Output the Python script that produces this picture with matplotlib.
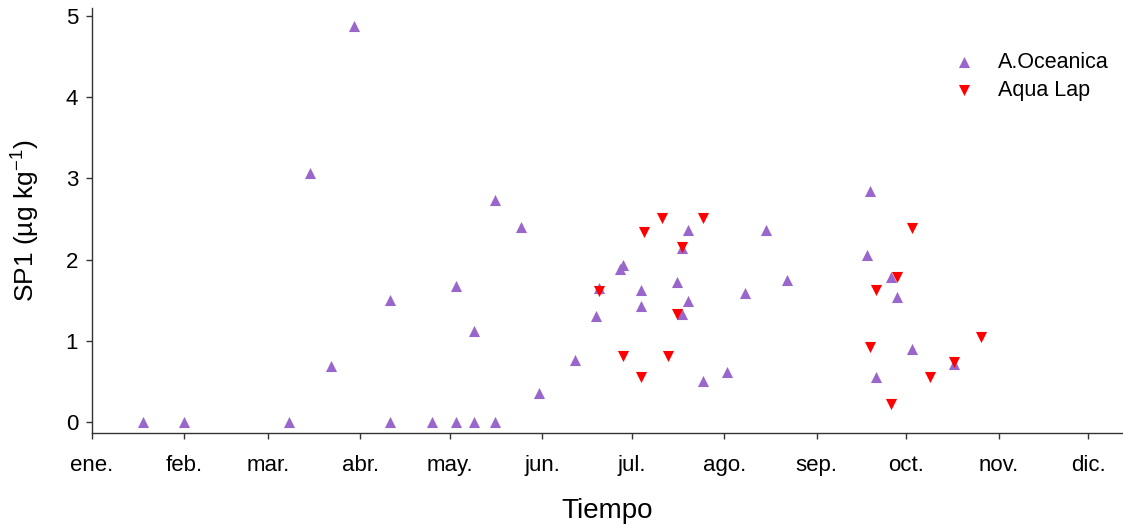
import datetime as dt
import matplotlib
matplotlib.use("Agg")
import matplotlib.pyplot as plt

plt.rcParams["font.family"] = ["Liberation Sans", "DejaVu Sans"]
plt.rcParams["mathtext.fontset"] = "custom"
plt.rcParams["mathtext.rm"] = "Liberation Sans"

# Sampling dates and SP1 concentrations (µg/kg)
oceanica_dates = [
    "2011-01-18", "2011-02-01", "2011-03-08", "2011-03-15", "2011-03-22",
    "2011-03-30", "2011-04-11", "2011-04-11", "2011-04-25", "2011-05-03",
    "2011-05-03", "2011-05-09", "2011-05-09", "2011-05-16", "2011-05-16",
    "2011-05-25", "2011-05-31", "2011-06-12", "2011-06-19", "2011-06-20",
    "2011-06-27", "2011-06-28", "2011-07-04", "2011-07-04", "2011-07-16",
    "2011-07-18", "2011-07-18", "2011-07-20", "2011-07-20", "2011-07-25",
    "2011-08-02", "2011-08-08", "2011-08-15", "2011-08-22", "2011-09-18",
    "2011-09-19", "2011-09-21", "2011-09-26", "2011-09-28", "2011-10-03",
    "2011-10-17",
]
oceanica_values = [
    0.00, 0.00, 0.00, 3.07, 0.69,
    4.88, 1.50, 0.00, 0.00, 1.67,
    0.00, 1.12, 0.00, 2.73, 0.00,
    2.40, 0.36, 0.77, 1.31, 1.65,
    1.88, 1.93, 1.63, 1.43, 1.72,
    2.14, 1.33, 2.37, 1.49, 0.50,
    0.62, 1.59, 2.37, 1.75, 2.06,
    2.84, 0.56, 1.78, 1.54, 0.90,
    0.71,
]

aqualap_dates = [
    "2011-06-20", "2011-06-28", "2011-07-04", "2011-07-05", "2011-07-11",
    "2011-07-13", "2011-07-16", "2011-07-18", "2011-07-25", "2011-09-19",
    "2011-09-21", "2011-09-26", "2011-09-28", "2011-10-03", "2011-10-09",
    "2011-10-17", "2011-10-26",
]
aqualap_values = [
    1.61, 0.81, 0.56, 2.34, 2.51,
    0.81, 1.33, 2.15, 2.51, 0.92,
    1.63, 0.22, 1.78, 2.39, 0.56,
    0.74, 1.05,
]

month_labels = ["ene.", "feb.", "mar.", "abr.", "may.", "jun.",
                "jul.", "ago.", "sep.", "oct.", "nov.", "dic."]

def to_dates(values):
    return [dt.datetime.strptime(v, "%Y-%m-%d") for v in values]

fig = plt.figure(figsize=(11.23, 5.29), dpi=100)
ax = fig.add_axes([0.0819, 0.1815, 0.9181, 0.8035])

ax.scatter(to_dates(oceanica_dates), oceanica_values, marker="^", s=64,
           color="#9966CC", linewidths=0, label="A.Oceanica", zorder=3)
ax.scatter(to_dates(aqualap_dates), aqualap_values, marker="v", s=64,
           color="#FF0000", linewidths=0, label="Aqua Lap", zorder=4)

start = dt.datetime(2011, 1, 1)
ax.set_xlim(start, start + dt.timedelta(days=345.7))
ax.set_ylim(-0.135, 5.1)

month_ticks = [dt.datetime(2011, m, 1) for m in range(1, 13)]
ax.set_xticks(month_ticks)
ax.set_xticklabels(month_labels)
ax.set_yticks([0, 1, 2, 3, 4, 5])

for side in ("top", "right"):
    ax.spines[side].set_visible(False)
for side in ("left", "bottom"):
    ax.spines[side].set_color("#333333")
    ax.spines[side].set_linewidth(1.0)

ax.tick_params(axis="x", direction="out", length=4, width=1, color="#333333",
               labelsize=16, pad=12)
ax.tick_params(axis="y", direction="out", length=4, width=1, color="#333333",
               labelsize=16, pad=6)

ax.set_xlabel("Tiempo", fontsize=20, labelpad=16)
ax.set_ylabel("SP1 (µg kg$^{\\mathregular{-1}}$)", fontsize=19, labelpad=18)

ax.legend(loc="upper right", bbox_to_anchor=(1.005, 0.943), frameon=False,
          fontsize=15.5, handletextpad=0.6, labelspacing=0.35,
          scatterpoints=1)

fig.savefig("out.png", dpi=100)
